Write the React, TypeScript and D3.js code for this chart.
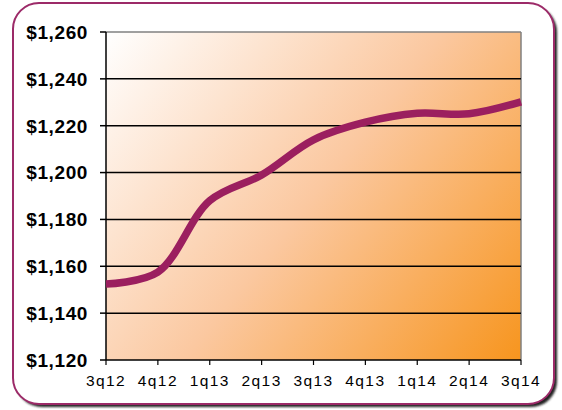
import React from "react";
import * as d3 from "d3";

const quarters = ["3q12", "4q12", "1q13", "2q13", "3q13", "4q13", "1q14", "2q14", "3q14"];
const values = [1152.4, 1157.5, 1188, 1199, 1214, 1221.5, 1225.3, 1225.1, 1230.2];
const yTicks = [1120, 1140, 1160, 1180, 1200, 1220, 1240, 1260];

export default function App() {
  const W = 562, H = 410;
  const left = 106, right = 521, top = 32, bottom = 360;
  const x = d3.scalePoint<string>().domain(quarters).range([left, right]);
  const y = d3.scaleLinear().domain([1120, 1260]).range([bottom, top]);
  const line = d3
    .line<number>()
    .x((_, i) => x(quarters[i]) as number)
    .y((d) => y(d))
    .curve(d3.curveCatmullRom.alpha(0.5));
  const fmt = (v: number) => "$" + d3.format(",")(v);
  return (
    <svg width={W} height={H} style={{ position: "absolute", left: 0, top: 0 }} fontFamily="'Liberation Sans', Arial, sans-serif">
      <defs>
        <linearGradient id="bg" gradientUnits="userSpaceOnUse" x1={left} y1={top} x2={right} y2={bottom}>
          <stop offset="0" stopColor="#ffffff" />
          <stop offset="0.5" stopColor="#fbc8a0" />
          <stop offset="1" stopColor="#f7951e" />
        </linearGradient>
        <filter id="blur" x="-10%" y="-10%" width="120%" height="120%">
          <feGaussianBlur stdDeviation="1.2" />
        </filter>
      </defs>
      <rect x={16} y={6} width={541} height={401} rx={26} fill="#222" filter="url(#blur)" />
      <rect x={13} y={3} width={541} height={401} rx={26} fill="#fff" stroke="#9c2a68" strokeWidth={2} />
      <rect x={left} y={top} width={right - left} height={bottom - top} fill="url(#bg)" />
      <line x1={left} x2={right} y1={top} y2={top} stroke="#808080" strokeWidth={1.5} />
      <line x1={right} x2={right} y1={top} y2={bottom} stroke="#808080" strokeWidth={1.5} />
      {yTicks.map((t) => (
        <g key={t}>
          {t !== 1120 && t !== 1260 && (
            <line x1={left} x2={right} y1={y(t)} y2={y(t)} stroke="#000" strokeWidth={1.5} />
          )}
          <line x1={left - 6} x2={left} y1={y(t)} y2={y(t)} stroke="#000" strokeWidth={1.5} />
          <text x={88} y={y(t)} dy="0.36em" textAnchor="end" fontWeight="bold" fontSize={19} letterSpacing={0.6}>
            {fmt(t)}
          </text>
        </g>
      ))}
      <line x1={left} x2={left} y1={top} y2={bottom} stroke="#000" strokeWidth={1.5} />
      <line x1={left} x2={right} y1={bottom} y2={bottom} stroke="#000" strokeWidth={1.5} />
      {quarters.map((q) => (
        <g key={q}>
          <line x1={x(q)} x2={x(q)} y1={bottom} y2={bottom + 5} stroke="#000" strokeWidth={1.2} />
          <text x={x(q)} y={bottom + 26} textAnchor="middle" fontSize={15.5} letterSpacing={1.4}>
            {q}
          </text>
        </g>
      ))}
      <path d={line(values) || ""} fill="none" stroke="#9b1f5f" strokeWidth={7.5} strokeLinecap="butt" />
    </svg>
  );
}
